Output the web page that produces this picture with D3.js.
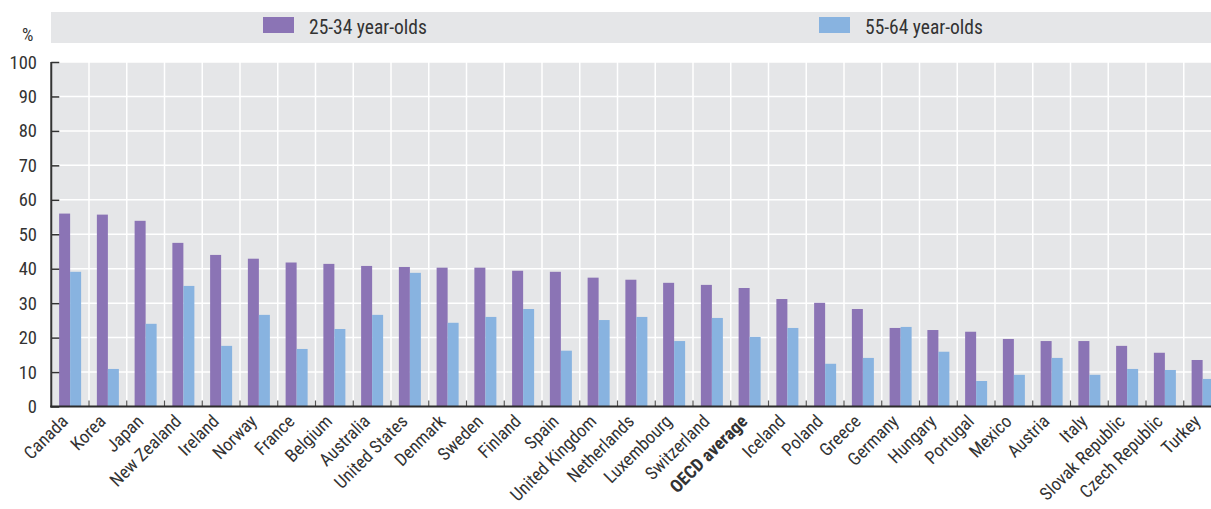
<!DOCTYPE html>
<html>
<head>
<meta charset="utf-8">
<script src="https://cdn.jsdelivr.net/npm/d3@7"></script>
<style>
  body { margin: 0; background: #fff; }
  svg text { font-family: "Liberation Sans Narrow", "Arial Narrow", "Roboto Condensed", "Liberation Sans", sans-serif; fill: #333; }
</style>
</head>
<body>
<div id="chart"></div>
<script>
const countries = ["Canada", "Korea", "Japan", "New Zealand", "Ireland", "Norway", "France", "Belgium",
  "Australia", "United States", "Denmark", "Sweden", "Finland", "Spain", "United Kingdom", "Netherlands",
  "Luxembourg", "Switzerland", "OECD average", "Iceland", "Poland", "Greece", "Germany", "Hungary",
  "Portugal", "Mexico", "Austria", "Italy", "Slovak Republic", "Czech Republic", "Turkey"];
const young = [56, 55.7, 53.9, 47.5, 44, 42.9, 41.8, 41.4, 40.8, 40.5, 40.3, 40.3, 39.4, 39.1, 37.4, 36.8,
  35.9, 35.3, 34.4, 31.2, 30.1, 28.3, 22.8, 22.2, 21.7, 19.6, 19.0, 19.0, 17.6, 15.6, 13.5];
const old = [39.1, 10.9, 24.0, 35.0, 17.6, 26.6, 16.7, 22.5, 26.6, 38.8, 24.3, 26.0, 28.3, 16.2, 25.1, 26.0,
  19.0, 25.7, 20.2, 22.8, 12.4, 14.1, 23.1, 15.9, 7.4, 9.2, 14.1, 9.2, 10.9, 10.6, 8.0];
const seriesNames = ["25-34 year-olds", "55-64 year-olds"];
const colors = ["#8b74b5", "#88b3e0"];
const yTicks = [0, 10, 20, 30, 40, 50, 60, 70, 80, 90, 100];

const W = 1211, H = 509;
const left = 51.25, bandW = 37.75;
const svg = d3.select("#chart").append("svg").attr("width", W).attr("height", H);

const x = d3.scaleBand().domain(countries).range([left, left + bandW * countries.length]).padding(0);
const y = d3.scaleLinear().domain([0, 100]).range([406.5, 62]);

// legend band
svg.append("rect").attr("x", 51).attr("y", 12).attr("width", W - 51).attr("height", 31).attr("fill", "#e5e6e8");
const legX = [263, 819];
seriesNames.forEach((s, i) => {
  svg.append("rect").attr("x", legX[i]).attr("y", 17).attr("width", 31).attr("height", 16).attr("fill", colors[i]);
  svg.append("text").attr("x", legX[i] + 46).attr("y", 34).attr("font-size", 19.5).text(s);
});

svg.append("text").attr("x", 22).attr("y", 41).attr("font-size", 18).text("%");

// plot background
svg.append("rect").attr("x", left).attr("y", y(100)).attr("width", bandW * countries.length)
  .attr("height", y(0) - y(100)).attr("fill", "#e5e6e8");

// grid lines
svg.append("g").selectAll("line").data(yTicks.slice(1)).join("line")
  .attr("x1", left).attr("x2", W).attr("y1", d => y(d)).attr("y2", d => y(d))
  .attr("stroke", "#fff").attr("stroke-width", 1.5);
svg.append("g").selectAll("line").data(countries.slice(1)).join("line")
  .attr("x1", d => x(d)).attr("x2", d => x(d)).attr("y1", y(100)).attr("y2", y(0))
  .attr("stroke", "#fff").attr("stroke-width", 1.5);

// bars
const barW = 11;
const groups = svg.append("g").selectAll("g").data(countries).join("g")
  .attr("transform", d => `translate(${x(d) + x.bandwidth() / 2},0)`);
groups.append("rect").attr("x", -barW).attr("width", barW)
  .attr("y", (d, i) => y(young[i])).attr("height", (d, i) => y(0) - y(young[i])).attr("fill", colors[0]);
groups.append("rect").attr("x", 0).attr("width", barW)
  .attr("y", (d, i) => y(old[i])).attr("height", (d, i) => y(0) - y(old[i])).attr("fill", colors[1]);

// bottom ticks between categories
svg.append("g").selectAll("line").data(countries.slice(1)).join("line")
  .attr("x1", d => x(d)).attr("x2", d => x(d)).attr("y1", y(0) - 6).attr("y2", y(0))
  .attr("stroke", "#555").attr("stroke-width", 1.2);

// y axis
const yAxis = svg.append("g").attr("transform", `translate(${left},0)`)
  .call(d3.axisRight(y).tickValues(yTicks).tickSize(8).tickFormat(""));
yAxis.select(".domain").remove();
yAxis.selectAll("line").attr("stroke", "#333").attr("stroke-width", 1.5);
svg.append("line").attr("x1", left).attr("x2", left).attr("y1", y(100)).attr("y2", y(0) + 1)
  .attr("stroke", "#333").attr("stroke-width", 2);
svg.append("g").selectAll("text").data(yTicks).join("text")
  .attr("x", 37).attr("y", d => y(d) + 6.5).attr("text-anchor", "end").attr("font-size", 18.5).text(d => d);

// x axis line
svg.append("line").attr("x1", left - 1).attr("x2", W).attr("y1", y(0)).attr("y2", y(0))
  .attr("stroke", "#2b2b2b").attr("stroke-width", 2.2);

// category labels
svg.append("g").selectAll("text").data(countries).join("text")
  .attr("transform", d => `translate(${x(d) + x.bandwidth() / 2 - 1},${y(0) + 16}) rotate(-45)`)
  .attr("text-anchor", "end").attr("font-size", 18)
  .attr("font-weight", d => d === "OECD average" ? "bold" : "normal")
  .text(d => d);
</script>
</body>
</html>
